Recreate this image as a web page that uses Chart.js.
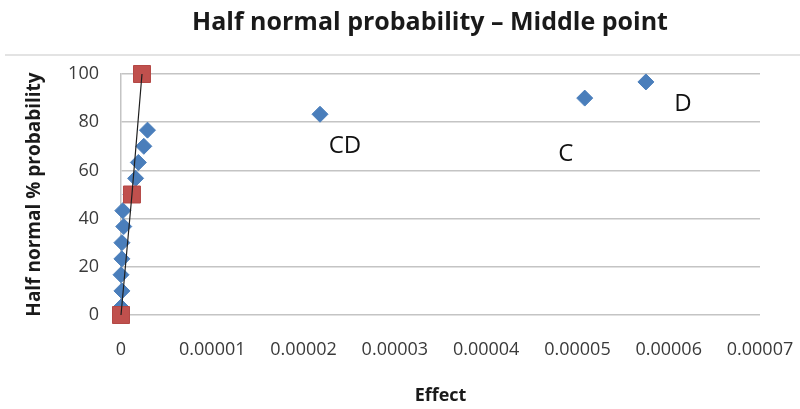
<!DOCTYPE html>
<html>
<head>
<meta charset="utf-8">
<script src="https://cdn.jsdelivr.net/npm/chart.js@4/dist/chart.umd.min.js"></script>
<style>
  html, body { margin: 0; padding: 0; background: #ffffff; }
  #wrap { width: 800px; height: 409px; position: relative; }
</style>
</head>
<body>
<div id="wrap"><canvas id="c"></canvas></div>
<script>
// ---- data ----
const chartTitle = 'Half normal probability \u2013 Middle point';
const xAxisTitle = 'Effect';
const yAxisTitle = 'Half normal % probability';

// blue diamonds: effects vs. half-normal % probability
const effectValues = [0, 0.0000001, 0.0000000, 0.0000001, 0.0000001, 0.0000003, 0.0000002,
                      0.0000011, 0.0000016, 0.0000019, 0.0000025, 0.0000029,
                      0.0000218, 0.0000508, 0.0000575];
const probabilityValues = [3.3, 10, 16.7, 23.3, 30, 36.7, 43.3, 50, 56.7, 63.3, 70, 76.7, 83.3, 90, 96.7];

// red squares: reference line points
const refLineEffect = [0, 0.0000012, 0.0000023];
const refLineProbability = [0, 50, 100];

// labelled effects
const labelNames = ['CD', 'C', 'D'];
const labelEffect = [0.0000218, 0.0000508, 0.0000575];
const labelProbability = [83.3, 90, 96.7];

// axes
const xTickLabels = ['0', '0.00001', '0.00002', '0.00003', '0.00004', '0.00005', '0.00006', '0.00007'];
const xMin = 0, xMax = 0.00007, xStep = 0.00001;
const yMin = 0, yMax = 100, yStep = 20;

// ---- build ----
const bluePoints = effectValues.map((v, i) => ({ x: v, y: probabilityValues[i] }));
const redPoints = refLineEffect.map((v, i) => ({ x: v, y: refLineProbability[i] }));

// label offsets (pixels) relative to the labelled point
const labelOffsets = [[25, 32], [-19, 56], [37, 22]];

const decorPlugin = {
  id: 'decor',
  beforeDraw(chart) {
    const ctx = chart.ctx;
    ctx.save();
    ctx.strokeStyle = '#e3e3e3';
    ctx.lineWidth = 2;
    ctx.beginPath();
    ctx.moveTo(5, 55);
    ctx.lineTo(800, 55);
    ctx.stroke();
    ctx.fillStyle = '#1a1a1a';
    ctx.font = 'bold 25px "Open Sans"';
    ctx.textAlign = 'center';
    ctx.textBaseline = 'middle';
    ctx.fillText(chartTitle, 430, 23);
    ctx.restore();
  },
  afterDatasetsDraw(chart) {
    const ctx = chart.ctx;
    const xs = chart.scales.x, ys = chart.scales.y;
    ctx.save();
    ctx.fillStyle = '#111111';
    ctx.font = '24px "Open Sans"';
    ctx.textAlign = 'center';
    ctx.textBaseline = 'middle';
    labelNames.forEach((t, i) => {
      const px = xs.getPixelForValue(labelEffect[i]) + labelOffsets[i][0];
      const py = ys.getPixelForValue(labelProbability[i]) + labelOffsets[i][1];
      ctx.fillText(t, px, py);
    });
    ctx.restore();
  }
};

Chart.defaults.font.family = '"Open Sans", "DejaVu Sans", sans-serif';

new Chart(document.getElementById('c'), {
  type: 'scatter',
  data: {
    datasets: [
      {
        label: 'line',
        data: redPoints,
        showLine: true,
        borderColor: '#1f1f1f',
        borderWidth: 1.2,
        pointRadius: 0,
        pointHoverRadius: 0,
        clip: false
      },
      {
        label: 'reference',
        data: redPoints,
        showLine: false,
        pointStyle: 'rect',
        pointRadius: 12,
        pointHoverRadius: 12,
        backgroundColor: '#c0504d',
        borderColor: '#b44744',
        borderWidth: 1,
        clip: false
      },
      {
        label: 'effects',
        data: bluePoints,
        showLine: false,
        pointStyle: 'rectRot',
        pointRadius: 8,
        pointHoverRadius: 8,
        backgroundColor: '#4a7ebb',
        borderColor: '#4a7ebb',
        borderWidth: 1,
        clip: false
      }
    ]
  },
  options: {
    responsive: true,
    maintainAspectRatio: false,
    animation: false,
    events: [],
    layout: { padding: { top: 74, right: 40, left: 0, bottom: 0 } },
    plugins: {
      legend: { display: false },
      title: { display: false },
      tooltip: { enabled: false }
    },
    scales: {
      x: {
        type: 'linear',
        min: xMin, max: xMax,
        afterFit(s) { s.height = 94; s.paddingLeft = 0; s.paddingRight = 0; },
        afterBuildTicks(s) {
          s.ticks = xTickLabels.map((_, i) => ({ value: xMin + i * xStep }));
        },
        ticks: {
          padding: 24,
          color: '#3a3a3a',
          font: { size: 18 },
          maxRotation: 0,
          autoSkip: false,
          callback: (v, i) => xTickLabels[i]
        },
        grid: { display: false, drawTicks: false },
        border: { display: false },
        title: {
          display: true,
          text: xAxisTitle,
          color: '#1a1a1a',
          font: { size: 18, weight: 'bold' },
          padding: { top: 0, bottom: 2 }
        }
      },
      y: {
        type: 'linear',
        min: yMin, max: yMax,
        afterFit(s) { s.width = 121; s.paddingTop = 0; s.paddingBottom = 0; },
        ticks: {
          stepSize: yStep,
          padding: 22,
          color: '#3a3a3a',
          font: { size: 18 }
        },
        grid: { color: '#c4c4c4', lineWidth: 1.5, drawTicks: false },
        border: { display: true, color: '#c4c4c4', width: 1.5 },
        title: {
          display: true,
          text: yAxisTitle,
          color: '#1a1a1a',
          font: { size: 19, weight: 'bold' },
          padding: { top: 23, bottom: 0 }
        }
      }
    }
  },
  plugins: [decorPlugin]
});
</script>
</body>
</html>
